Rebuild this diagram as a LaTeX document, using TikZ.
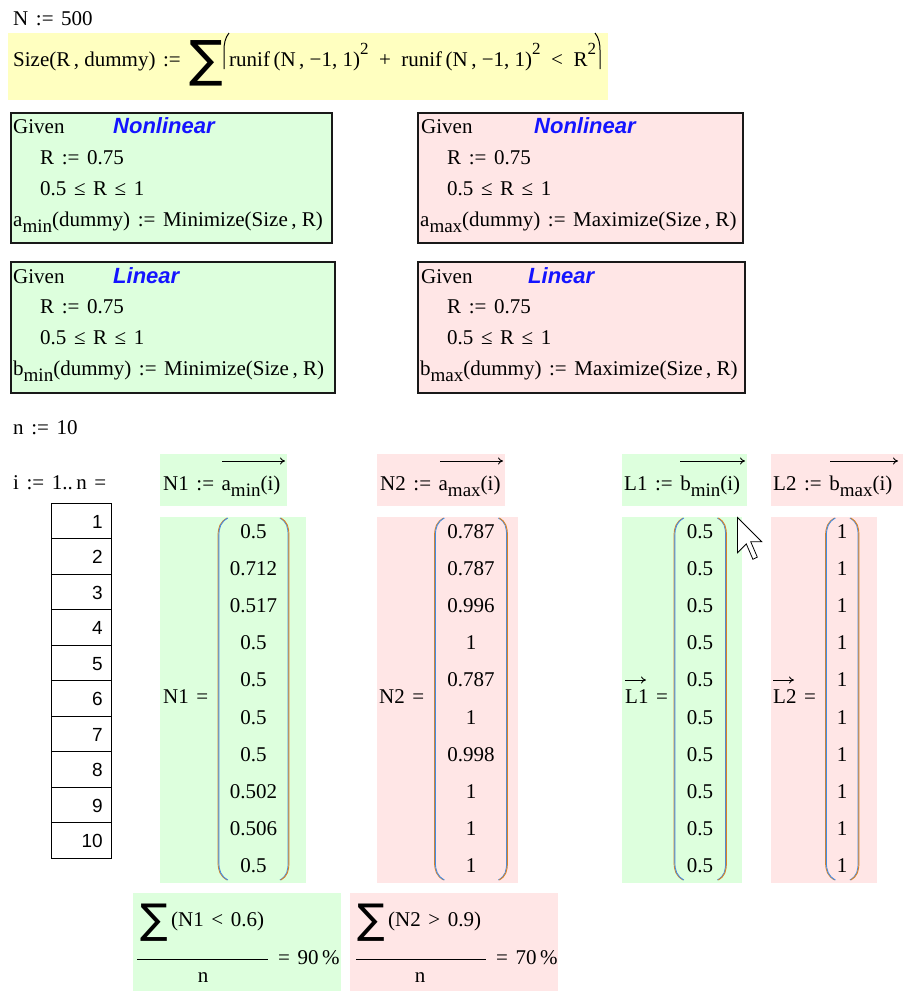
\documentclass[tikz,border=0pt]{standalone}
\usepackage{fontspec}
\usetikzlibrary{arrows.meta}
\setmainfont{Liberation Serif}
\setsansfont{Liberation Sans}
\newfontfamily\symfont{DejaVu Sans}
\definecolor{gfill}{RGB}{221,255,221}
\definecolor{rfill}{RGB}{255,230,230}
\definecolor{yfill}{RGB}{255,255,192}
\definecolor{kwblue}{RGB}{20,20,255}
\definecolor{pblue}{RGB}{70,140,225}
\definecolor{porange}{RGB}{215,130,40}
\newcommand\mcf{\fontsize{21}{24}\selectfont}
\newcommand\mcsub[1]{\raisebox{-0.3em}{\fontsize{19}{19}\selectfont #1}}
\newcommand\mcsup[1]{\raisebox{0.56em}{\fontsize{17}{17}\selectfont #1}}
\newcommand\ceq{\hspace{0.36em}:=\hspace{0.36em}}
\newcommand\mrel[1]{\hspace{0.36em}#1\hspace{0.36em}}
\newcommand\wrel[1]{\hspace{0.5em}#1\hspace{0.5em}}
\newcommand\mlparen[3]{%
  \draw[porange,line width=0.9pt] (#1+8.6,#2) .. controls (#1+1.6,#2+4) and (#1-0.4,#2+9) .. (#1-0.4,#2+18) -- (#1-0.4,#3-18) .. controls (#1-0.4,#3-9) and (#1+1.6,#3-4) .. (#1+8.6,#3);
  \draw[pblue,line width=0.9pt] (#1+9.4,#2) .. controls (#1+2.4,#2+4) and (#1+0.4,#2+9) .. (#1+0.4,#2+18) -- (#1+0.4,#3-18) .. controls (#1+0.4,#3-9) and (#1+2.4,#3-4) .. (#1+9.4,#3);}
\newcommand\mrparen[3]{%
  \draw[pblue,line width=0.9pt] (#1-8.6,#2) .. controls (#1-1.6,#2+4) and (#1-0.4,#2+9) .. (#1-0.4,#2+18) -- (#1-0.4,#3-18) .. controls (#1-0.4,#3-9) and (#1-1.6,#3-4) .. (#1-8.6,#3);
  \draw[porange,line width=0.9pt] (#1-7.8,#2) .. controls (#1-0.8,#2+4) and (#1+0.4,#2+9) .. (#1+0.4,#2+18) -- (#1+0.4,#3-18) .. controls (#1+0.4,#3-9) and (#1-0.8,#3-4) .. (#1-7.8,#3);}
\begin{document}
\begin{tikzpicture}[x=1pt,y=-1pt,
  every node/.style={inner sep=0pt,font=\mcf},
  lbl/.style={anchor=base west},
  kw/.style={anchor=base west,font=\fontsize{22}{24}\selectfont\sffamily\bfseries\itshape,text=kwblue},
  givenbox/.style={draw=black!90,line width=1.6pt},
  idx/.style={anchor=base east,font=\fontsize{19}{22}\selectfont\sffamily},
  cell/.style={anchor=base,font=\mcf},
  vecarrow/.style={-{To[length=5pt,width=7pt]},line width=0.9pt},
  sumsign/.style={anchor=center,font=\symfont\fontsize{50}{50}\selectfont},
  smallsum/.style={anchor=center,font=\symfont\fontsize{41}{41}\selectfont},
  bigparen/.style={line width=1pt}]
\useasboundingbox (0,0) rectangle (903,999);
\fill[white] (0,0) rectangle (903,999);

% header
\node[lbl] (Ndef) at (13,25) {N\ceq 500};
\fill[yfill] (8,33) rectangle (608,100);
\node[lbl] (sizedef) at (13,66) {Size(R\,, dummy)\ceq};
\node[sumsign] (sig) at (206,63) {∑};
\draw[bigparen] (229,33) .. controls (225,38) and (224,44) .. (224,50) -- (224,69);
\node[lbl] (sizebody) at (229,66) {runif\,(N\,, −1, 1)\mcsup{2}\wrel{+}runif\,(N\,, −1, 1)\mcsup{2}\wrel{<}R\mcsup{2}};
\draw[bigparen] (595,33) .. controls (599,38) and (600,44) .. (600,50) -- (600,69);

% Given blocks
\filldraw[fill=gfill,givenbox] (11,113) rectangle (332,243);
\node[lbl] (g1) at (13,133) {Given};
\node[kw] (k1) at (113,133) {Nonlinear};
\node[lbl] (g1r) at (40,164) {R\ceq 0.75};
\node[lbl] (g1c) at (40,195) {0.5\mrel{≤}R\mrel{≤}1};
\node[lbl] (g1f) at (13,226) {a\mcsub{min}(dummy)\ceq Minimize(Size\,, R)};

\filldraw[fill=gfill,givenbox] (11,262) rectangle (335,393);
\node[lbl] (g2) at (13,283) {Given};
\node[kw] (k2) at (113,283) {Linear};
\node[lbl] (g2r) at (40,313) {R\ceq 0.75};
\node[lbl] (g2c) at (40,344) {0.5\mrel{≤}R\mrel{≤}1};
\node[lbl] (g2f) at (13,375) {b\mcsub{min}(dummy)\ceq Minimize(Size\,, R)};

\filldraw[fill=rfill,givenbox] (418,113) rectangle (743,243);
\node[lbl] (g3) at (421,133) {Given};
\node[kw] (k3) at (534,133) {Nonlinear};
\node[lbl] (g3r) at (447,164) {R\ceq 0.75};
\node[lbl] (g3c) at (447,195) {0.5\mrel{≤}R\mrel{≤}1};
\node[lbl] (g3f) at (420,226) {a\mcsub{max}(dummy)\ceq Maximize(Size\,, R)};

\filldraw[fill=rfill,givenbox] (418,262) rectangle (745,393);
\node[lbl] (g4) at (421,283) {Given};
\node[kw] (k4) at (528,283) {Linear};
\node[lbl] (g4r) at (447,313) {R\ceq 0.75};
\node[lbl] (g4c) at (447,344) {0.5\mrel{≤}R\mrel{≤}1};
\node[lbl] (g4f) at (420,375) {b\mcsub{max}(dummy)\ceq Maximize(Size\,, R)};

% n and range
\node[lbl] (ndef) at (13,434) {n\ceq 10};
\node[lbl] (idef) at (13,489) {i\ceq 1..\,n\mrel{=}};
\foreach \k in {1,...,10}{
  \draw[line width=1pt] (51.7,{503.3+35.5*(\k-1)}) rectangle (111.7,{503.3+35.5*\k});
  \node[idx] (ix\k) at (103,{528.3+35.5*(\k-1)}) {\k};
}

% header assignments
\fill[gfill] (160,454) rectangle (287,506);
\node[lbl] (N1def) at (163,490) {N1\ceq a\mcsub{min}(i)};
\draw[vecarrow] (222,461) -- (285,461);
\fill[rfill] (377,454) rectangle (505,506);
\node[lbl] (N2def) at (380,490) {N2\ceq a\mcsub{max}(i)};
\draw[vecarrow] (440,461) -- (503,461);
\fill[gfill] (622,454) rectangle (747,506);
\node[lbl] (L1def) at (624,490) {L1\ceq b\mcsub{min}(i)};
\draw[vecarrow] (680,461) -- (745,461);
\fill[rfill] (771,454) rectangle (903,506);
\node[lbl] (L2def) at (773,490) {L2\ceq b\mcsub{max}(i)};
\draw[vecarrow] (830,461) -- (898,461);

% result matrices
\fill[gfill] (160,517) rectangle (306,883);
\node[lbl] (N1eq) at (163,703) {N1\mrel{=}};
\mlparen{218.5}{518}{880}
\mrparen{288.5}{518}{880}
\foreach \v [count=\k] in {0.5,0.712,0.517,0.5,0.5,0.5,0.5,0.502,0.506,0.5}{
  \node[cell] (a\k) at (253.5,{538+37.2*(\k-1)}) {\v};
}

\fill[rfill] (377,517) rectangle (518,883);
\node[lbl] (N2eq) at (379,703) {N2\mrel{=}};
\mlparen{435}{518}{880}
\mrparen{507}{518}{880}
\foreach \v [count=\k] in {0.787,0.787,0.996,1,0.787,1,0.998,1,1,1}{
  \node[cell] (b\k) at (471,{538+37.2*(\k-1)}) {\v};
}

\fill[gfill] (622,517) rectangle (742,883);
\node[lbl] (L1eq) at (625,703) {L1\mrel{=}};
\draw[vecarrow] (625,680) -- (646,680);
\mlparen{674.5}{518}{880}
\mrparen{726}{518}{880}
\foreach \k in {1,...,10}{
  \node[cell] (c\k) at (700,{538+37.2*(\k-1)}) {0.5};
}

\fill[rfill] (771,517) rectangle (877,883);
\node[lbl] (L2eq) at (773,703) {L2\mrel{=}};
\draw[vecarrow] (773,680) -- (794,680);
\mlparen{826}{518}{880}
\mrparen{858.5}{518}{880}
\foreach \k in {1,...,10}{
  \node[cell] (d\k) at (842,{538+37.2*(\k-1)}) {1};
}

% cursor
\filldraw[fill=white,draw=black,line width=0.8pt,line join=miter]
  (737.5,517.5) -- ++(0,35.2) -- ++(8.8,-8.8) -- ++(6.6,15.4) -- ++(4.4,-2.2) -- ++(-6.6,-15.4) -- ++(11,0) -- cycle;

% percentages
\fill[gfill] (133,893) rectangle (341,991);
\node[smallsum] (s1) at (154,923) {∑};
\node[lbl] (s1b) at (171,926) {(N1\mrel{<}0.6)};
\draw[line width=1pt] (137,959) -- (268,959);
\node[cell] (s1n) at (203,982) {n};
\node[lbl] (s1r) at (278,964) {=\hspace{0.36em}90\,\%};

\fill[rfill] (350,893) rectangle (558,991);
\node[smallsum] (s2) at (371,923) {∑};
\node[lbl] (s2b) at (388,926) {(N2\mrel{>}0.9)};
\draw[line width=1pt] (356,959) -- (486,959);
\node[cell] (s2n) at (420,982) {n};
\node[lbl] (s2r) at (496,964) {=\hspace{0.36em}70\,\%};
\end{tikzpicture}
\end{document}
